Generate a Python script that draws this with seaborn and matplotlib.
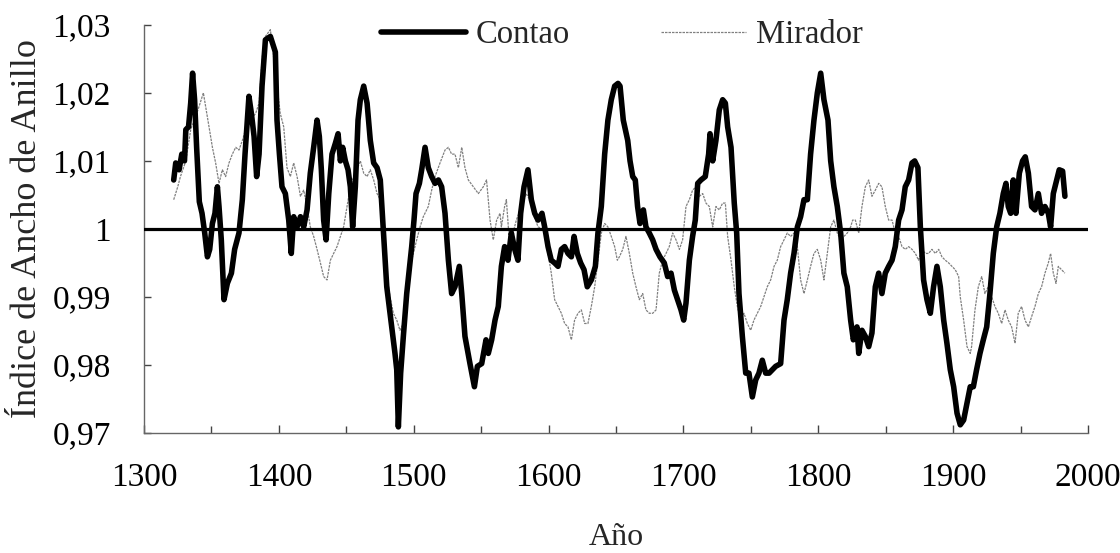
import matplotlib
matplotlib.use("Agg")
import matplotlib.pyplot as plt
import seaborn as sns
import pandas as pd
from matplotlib.ticker import MultipleLocator, FuncFormatter

# ---------------- data ----------------
contao_years = [1322, 1323.5, 1326, 1328, 1330, 1331, 1333, 1334.6, 1336, 1337.5, 1339, 1341, 1343, 1345,
                1347, 1348.7, 1350.7, 1352.6, 1354.4, 1355.6, 1357.3, 1359.3, 1361.8, 1364.8, 1367.2, 1370.4,
                1372.9, 1374.9, 1377.8, 1379.6, 1381.6, 1383.5, 1385.3, 1387.5, 1390, 1393.7, 1397.4, 1398.6,
                1400.4, 1402.3, 1404.8, 1407.3, 1409.2, 1411, 1413.5, 1416, 1418.4, 1420.9, 1423.3, 1425.8,
                1428.3, 1430, 1431.5, 1433.2, 1435, 1437, 1439.4, 1441.9, 1443.9, 1445.6, 1447.3, 1449.3,
                1451.3, 1453, 1454.7, 1456.7, 1458.7, 1460.4, 1462.9, 1465.4, 1467.8, 1470.3, 1472.8, 1475.2,
                1477, 1480, 1483.7, 1486.1, 1487.4, 1488.6, 1490.3, 1492.3, 1494.8, 1498.5, 1500.2, 1501.7,
                1504.2, 1505.9, 1508.4, 1510.8, 1513.3, 1515.8, 1518.3, 1520.7, 1523.2, 1525.7, 1528.1, 1530.6,
                1533.8, 1535.6, 1538, 1541.7, 1545, 1547.2, 1550.4, 1553.6, 1555.3, 1557.8, 1560.3, 1562.7,
                1565, 1567.4, 1569.9, 1572.4, 1574.9, 1577.3, 1579.3, 1581.8, 1584.7, 1587.2, 1589.7, 1592.2,
                1595.1, 1597.1, 1599.6, 1602, 1604.5, 1607, 1609.5, 1611.9, 1614.4, 1616.9, 1618.9, 1621.3,
                1623.8, 1626.3, 1628.7, 1631.7, 1634.7, 1636.6, 1639.1, 1641.6, 1644, 1646.5, 1649, 1651.5,
                1653, 1655.4, 1658.7, 1660.4, 1662.4, 1664.3, 1666, 1667.8, 1670.3, 1672.2, 1674.7, 1677.2,
                1679.7, 1682.6, 1685.8, 1688.3, 1690.8, 1693.3, 1695.7, 1698.2, 1700.2, 1701.9, 1704.4, 1706.8,
                1708.8, 1710.6, 1713, 1716.2, 1718.7, 1719.7, 1721.7, 1724.1, 1726.6, 1729.1, 1731.1, 1732.8,
                1735.3, 1737.7, 1739.5, 1741.2, 1743.7, 1746.2, 1748.6, 1751.1, 1753.6, 1756, 1758.5, 1761,
                1763.5, 1765.9, 1768.4, 1772.1, 1774.6, 1777, 1779.5, 1782, 1784.5, 1786.9, 1789.4, 1791.9,
                1794.3, 1796.8, 1799.3, 1801.8, 1804.2, 1807.2, 1809.2, 1811.6, 1814.1, 1816.6, 1819, 1821.5,
                1824, 1826, 1828.7, 1830, 1832.4, 1834.9, 1837.4, 1839.8, 1842.3, 1844.8, 1847.2, 1849.7,
                1852.2, 1854.7, 1857.1, 1859.6, 1862.1, 1864.5, 1867, 1869.5, 1871.5, 1873.9, 1875.7, 1878.1,
                1880.6, 1883.1, 1885.5, 1888, 1890.5, 1893, 1895.4, 1897.9, 1900.4, 1902.9, 1905.3, 1907.8,
                1910.3, 1912.7, 1915, 1917.4, 1919.9, 1922.4, 1924.9, 1927.3, 1929.8, 1932.3, 1934.7, 1937.2,
                1939.2, 1940.9, 1942.7, 1944.6, 1946.6, 1949.1, 1951.5, 1953.5, 1955.8, 1958.2, 1960.7, 1963.2,
                1965.6, 1968.1, 1970.6, 1972.3, 1974.3, 1976.8, 1978.7, 1981.2, 1982.9]
contao_values = [1.0072, 1.0097, 1.0087, 1.0110, 1.0100, 1.0146, 1.0150, 1.0185, 1.0229, 1.0190, 1.0120, 1.0040, 1.0023, 0.9994,
                 0.9959, 0.9970, 1.0008, 1.0023, 1.0062, 1.0033, 0.9984, 0.9896, 0.9920, 0.9935, 0.9970, 0.9994,
                 1.0043, 1.0110, 1.0195, 1.0170, 1.0136, 1.0077, 1.0110, 1.0210, 1.0278, 1.0283, 1.0260, 1.0160,
                 1.0110, 1.0062, 1.0052, 1.0013, 0.9964, 1.0018, 1.0003, 1.0018, 1.0003, 1.0028, 1.0082, 1.0120,
                 1.0160, 1.0136, 1.0087, 1.0013, 0.9984, 1.0052, 1.0110, 1.0126, 1.0140, 1.0100, 1.0120, 1.0100,
                 1.0087, 1.0062, 1.0003, 1.0062, 1.0160, 1.0190, 1.0210, 1.0185, 1.0130, 1.0097, 1.0090, 1.0072,
                 1.0013, 0.9915, 0.9856, 0.9817, 0.9793, 0.9709, 0.9788, 0.9842, 0.9905, 0.9974, 1.0013, 1.0052,
                 1.0067, 1.0087, 1.0120, 1.0090, 1.0077, 1.0067, 1.0072, 1.0062, 1.0023, 0.9954, 0.9905, 0.9915,
                 0.9945, 0.9905, 0.9842, 0.9802, 0.9768, 0.9798, 0.9802, 0.9837, 0.9817, 0.9837, 0.9866, 0.9886,
                 0.9945, 0.9974, 0.9954, 0.9994, 0.9970, 0.9954, 1.0023, 1.0062, 1.0087, 1.0043, 1.0023, 1.0013,
                 1.0023, 1.0003, 0.9974, 0.9954, 0.9950, 0.9945, 0.9970, 0.9974, 0.9964, 0.9959, 0.9989, 0.9964,
                 0.9950, 0.9940, 0.9915, 0.9925, 0.9945, 0.9994, 1.0033, 1.0110, 1.0160, 1.0190, 1.0210, 1.0214,
                 1.0210, 1.0160, 1.0130, 1.0100, 1.0077, 1.0072, 1.0033, 1.0008, 1.0028, 1.0003, 0.9994, 0.9984,
                 0.9970, 0.9959, 0.9950, 0.9930, 0.9935, 0.9910, 0.9896, 0.9881, 0.9866, 0.9891, 0.9954, 0.9989,
                 1.0013, 1.0067, 1.0072, 1.0077, 1.0110, 1.0140, 1.0100, 1.0130, 1.0175, 1.0190, 1.0185, 1.0150,
                 1.0120, 1.0038, 0.9994, 0.9905, 0.9842, 0.9788, 0.9788, 0.9753, 0.9778, 0.9788, 0.9807, 0.9788,
                 0.9788, 0.9793, 0.9798, 0.9802, 0.9866, 0.9896, 0.9935, 0.9964, 1.0003, 1.0018, 1.0043, 1.0043,
                 1.0110, 1.0160, 1.0200, 1.0229, 1.0190, 1.0160, 1.0100, 1.0062, 1.0033, 0.9994, 0.9935, 0.9915,
                 0.9866, 0.9837, 0.9856, 0.9817, 0.9851, 0.9842, 0.9827, 0.9847, 0.9915, 0.9935, 0.9905, 0.9935,
                 0.9945, 0.9954, 0.9974, 1.0013, 1.0028, 1.0062, 1.0072, 1.0097, 1.0100, 1.0090, 1.0003, 0.9925,
                 0.9896, 0.9876, 0.9915, 0.9945, 0.9915, 0.9866, 0.9832, 0.9793, 0.9768, 0.9729, 0.9712, 0.9719,
                 0.9744, 0.9768, 0.9768, 0.9793, 0.9817, 0.9837, 0.9856, 0.9905, 0.9964, 1.0003, 1.0023, 1.0052,
                 1.0067, 1.0033, 1.0023, 1.0072, 1.0023, 1.0082, 1.0100, 1.0106, 1.0082, 1.0033, 1.0028, 1.0052,
                 1.0023, 1.0033, 1.0023, 1.0003, 1.0052, 1.0072, 1.0087, 1.0085, 1.0048]

mirador_years = [1322, 1325, 1327, 1331, 1334.6, 1338.3, 1340.8, 1344, 1345.7, 1348.2, 1350.7, 1353.1, 1355.6,
                 1358.1, 1360.5, 1363, 1365.5, 1368, 1370.4, 1372.9, 1375.4, 1379, 1382.8, 1385.3, 1387.7,
                 1390, 1393.7, 1398.6, 1401, 1403.6, 1406, 1408.5, 1411, 1413.5, 1416, 1418.4, 1420.9, 1423.3,
                 1425.8, 1428.3, 1430.8, 1433.2, 1435.7, 1438.2, 1440.6, 1443.1, 1445.6, 1448, 1450.5, 1453,
                 1455.5, 1457.9, 1460.4, 1462.9, 1465.4, 1467.8, 1470.3, 1472.8, 1475.2, 1478.7, 1482.4, 1484.9,
                 1487.4, 1489.8, 1492.3, 1494.8, 1498.5, 1502.2, 1504.7, 1507.1, 1510.8, 1513.3, 1515.8, 1519.5,
                 1523.2, 1525.7, 1528.1, 1530.6, 1533.1, 1535.6, 1538, 1540.5, 1544.2, 1547.9, 1551.6, 1554,
                 1556.6, 1559, 1561.5, 1564, 1565, 1567.4, 1568.7, 1571.2, 1573.6, 1576.1, 1579.8, 1583.5,
                 1586, 1588.4, 1592.2, 1597.1, 1599.6, 1602, 1604.5, 1607, 1609.5, 1611.9, 1614.4, 1616.9,
                 1619.3, 1621.8, 1624.3, 1626.8, 1629.2, 1631.7, 1634.2, 1636.6, 1639.1, 1641.6, 1644, 1646.5,
                 1649, 1651, 1652.5, 1655, 1657.4, 1659.9, 1662.4, 1664.8, 1667.3, 1669.8, 1672.2, 1674.7,
                 1677.2, 1679.7, 1682.1, 1684.6, 1687.1, 1689.5, 1692, 1694.5, 1697, 1699.4, 1701.9, 1704.4,
                 1706.8, 1709.3, 1711.8, 1714.3, 1716.7, 1719.2, 1721.7, 1724.1, 1726.6, 1729.1, 1731.1, 1732.8,
                 1735.3, 1737.7, 1740, 1742.4, 1744.9, 1747.4, 1749.9, 1752.3, 1754.8, 1757.3, 1759.7, 1762.2,
                 1764.7, 1767.2, 1769.6, 1772.1, 1774.6, 1777, 1779.5, 1782, 1784.5, 1786.9, 1789.4, 1791.9,
                 1794.3, 1796.8, 1799.3, 1801.8, 1804.2, 1806.7, 1809.2, 1811.6, 1814.1, 1816.6, 1819, 1821.5,
                 1824, 1825.5, 1827.5, 1830, 1832.4, 1834.9, 1837.4, 1839.8, 1842.3, 1844.8, 1847.2, 1849.7,
                 1852.2, 1854.7, 1857.1, 1859.6, 1862.1, 1864.5, 1867, 1869.5, 1872, 1874.4, 1876.9, 1879.3,
                 1881.8, 1884.3, 1886.8, 1889.3, 1891.7, 1894.2, 1896.7, 1899.1, 1901.6, 1904.1, 1905.3, 1907.8,
                 1910.3, 1912.7, 1913.7, 1916.2, 1918.7, 1921.2, 1923.6, 1926.1, 1928.6, 1931, 1933.5, 1936,
                 1938.5, 1940.9, 1943.4, 1945.9, 1948.3, 1950.8, 1953.3, 1955.8, 1958.2, 1960.7, 1963.2, 1965.6,
                 1968.1, 1970.6, 1972.3, 1974.3, 1976.3, 1978, 1980.5, 1982.9]
mirador_values = [1.0043, 1.0062, 1.0077, 1.0100, 1.0146, 1.0165, 1.0180, 1.0200, 1.0180, 1.0150, 1.0120, 1.0097, 1.0067,
                  1.0087, 1.0077, 1.0097, 1.0110, 1.0120, 1.0116, 1.0130, 1.0146, 1.0160, 1.0170, 1.0185, 1.0253,
                  1.0283, 1.0293, 1.0210, 1.0170, 1.0150, 1.0090, 1.0077, 1.0097, 1.0077, 1.0048, 1.0057, 1.0033, 1.0003,
                  0.9989, 0.9970, 0.9950, 0.9930, 0.9925, 0.9954, 0.9964, 0.9974, 0.9989, 1.0003, 1.0033, 1.0062,
                  1.0077, 1.0087, 1.0100, 1.0082, 1.0077, 1.0087, 1.0072, 1.0052, 1.0043, 0.9954, 0.9900, 0.9876,
                  0.9866, 0.9851, 0.9861, 0.9905, 0.9954, 0.9984, 1.0003, 1.0018, 1.0033, 1.0057, 1.0077, 1.0097,
                  1.0116, 1.0120, 1.0110, 1.0110, 1.0090, 1.0120, 1.0090, 1.0072, 1.0062, 1.0052, 1.0062, 1.0072,
                  1.0013, 0.9984, 1.0013, 1.0023, 1.0003, 1.0033, 1.0043, 0.9974, 0.9994, 1.0013, 1.0033, 1.0052,
                  1.0043, 1.0023, 1.0003, 0.9999, 0.9964, 0.9935, 0.9896, 0.9886, 0.9876, 0.9861, 0.9856, 0.9837,
                  0.9866, 0.9876, 0.9881, 0.9861, 0.9861, 0.9886, 0.9915, 0.9954, 0.9994, 1.0008, 1.0003, 0.9989,
                  0.9974, 0.9954, 0.9959, 0.9970, 0.9989, 0.9964, 0.9935, 0.9915, 0.9896, 0.9905, 0.9881, 0.9876,
                  0.9876, 0.9881, 0.9935, 0.9954, 0.9964, 0.9974, 0.9994, 0.9984, 0.9970, 0.9984, 1.0033, 1.0043,
                  1.0057, 1.0062, 1.0048, 1.0052, 1.0038, 1.0033, 1.0003, 1.0033, 1.0028, 1.0038, 1.0038, 0.9989,
                  0.9954, 0.9915, 0.9886, 0.9866, 0.9876, 0.9861, 0.9851, 0.9866, 0.9876, 0.9886, 0.9900, 0.9915,
                  0.9925, 0.9945, 0.9954, 0.9974, 0.9984, 0.9994, 0.9989, 0.9994, 0.9974, 0.9925, 0.9905, 0.9925,
                  0.9945, 0.9964, 0.9970, 0.9954, 0.9925, 0.9964, 1.0003, 1.0013, 0.9994, 0.9984, 0.9989, 0.9994,
                  1.0003, 1.0013, 1.0013, 0.9994, 1.0033, 1.0062, 1.0072, 1.0048, 1.0057, 1.0067, 1.0062, 1.0033,
                  1.0013, 1.0013, 0.9994, 0.9989, 0.9974, 0.9970, 0.9974, 0.9970, 0.9964, 0.9954, 0.9970, 0.9964,
                  0.9964, 0.9970, 0.9964, 0.9970, 0.9959, 0.9954, 0.9950, 0.9945, 0.9940, 0.9930, 0.9900, 0.9866,
                  0.9827, 0.9817, 0.9827, 0.9881, 0.9915, 0.9930, 0.9905, 0.9915, 0.9900, 0.9886, 0.9876, 0.9861,
                  0.9881, 0.9866, 0.9856, 0.9832, 0.9876, 0.9886, 0.9866, 0.9856, 0.9871, 0.9886, 0.9905, 0.9915,
                  0.9935, 0.9950, 0.9964, 0.9935, 0.9920, 0.9945, 0.9940, 0.9935]

x_ticks = [1300, 1400, 1500, 1600, 1700, 1800, 1900, 2000]
y_ticks = [0.97, 0.98, 0.99, 1.00, 1.01, 1.02, 1.03]
reference_level = 1.0

# ---------------- figure ----------------
sns.set_theme(style="white")
plt.rcParams["font.family"] = ["Liberation Serif", "DejaVu Serif"]

fig = plt.figure(figsize=(11.2, 5.53), dpi=100)
ax = fig.add_axes([0.1286, 0.217, 0.8428, 0.738])

df_c = pd.DataFrame({"Año": contao_years, "Indice": contao_values})
df_m = pd.DataFrame({"Año": mirador_years, "Indice": mirador_values})

sns.lineplot(data=df_m, x="Año", y="Indice", ax=ax, color="#808080", linewidth=0.9,
             linestyle=(0, (2.0, 0.8)), label="Mirador", zorder=2)
sns.lineplot(data=df_c, x="Año", y="Indice", ax=ax, color="black", linewidth=4.0,
             label="Contao", zorder=3)
ax.axhline(reference_level, color="black", linewidth=2.3, zorder=4)

ax.set_xlim(1300, 2000)
ax.set_ylim(0.97, 1.03)
ax.set_xticks(x_ticks)
ax.xaxis.set_minor_locator(MultipleLocator(50))
ax.set_yticks(y_ticks)
ax.yaxis.set_major_formatter(FuncFormatter(
    lambda v, p: "1" if abs(v - 1) < 1e-9 else f"{v:.2f}".replace(".", ",")))

ax.tick_params(axis="x", which="major", direction="in", length=6, width=1, colors="#444444",
               labelsize=24, labelcolor="black", pad=21)
ax.tick_params(axis="x", which="minor", direction="in", length=5, width=1, colors="#444444")
ax.tick_params(axis="y", which="major", direction="in", length=5, width=1, colors="#444444",
               labelsize=24, labelcolor="black", pad=24, left=True)
ax.tick_params(axis="x", bottom=True, which="both")

for s in ["top", "right"]:
    ax.spines[s].set_visible(False)
for s in ["left", "bottom"]:
    ax.spines[s].set_color("#666666")
    ax.spines[s].set_linewidth(1.0)

ax.set_xlabel("Año", fontsize=23, labelpad=22)
ax.set_ylabel("Índice de Ancho de Anillo", fontsize=26, labelpad=6)

handles, labels = ax.get_legend_handles_labels()
order = [labels.index("Contao"), labels.index("Mirador")]
ax.legend([handles[i] for i in order], [labels[i] for i in order], ncol=2, frameon=False,
          loc="upper center", bbox_to_anchor=(0.506, 1.085), fontsize=23.5, handlelength=2.6,
          columnspacing=2.8, handletextpad=0.3)

fig.savefig("out.png", dpi=100)
